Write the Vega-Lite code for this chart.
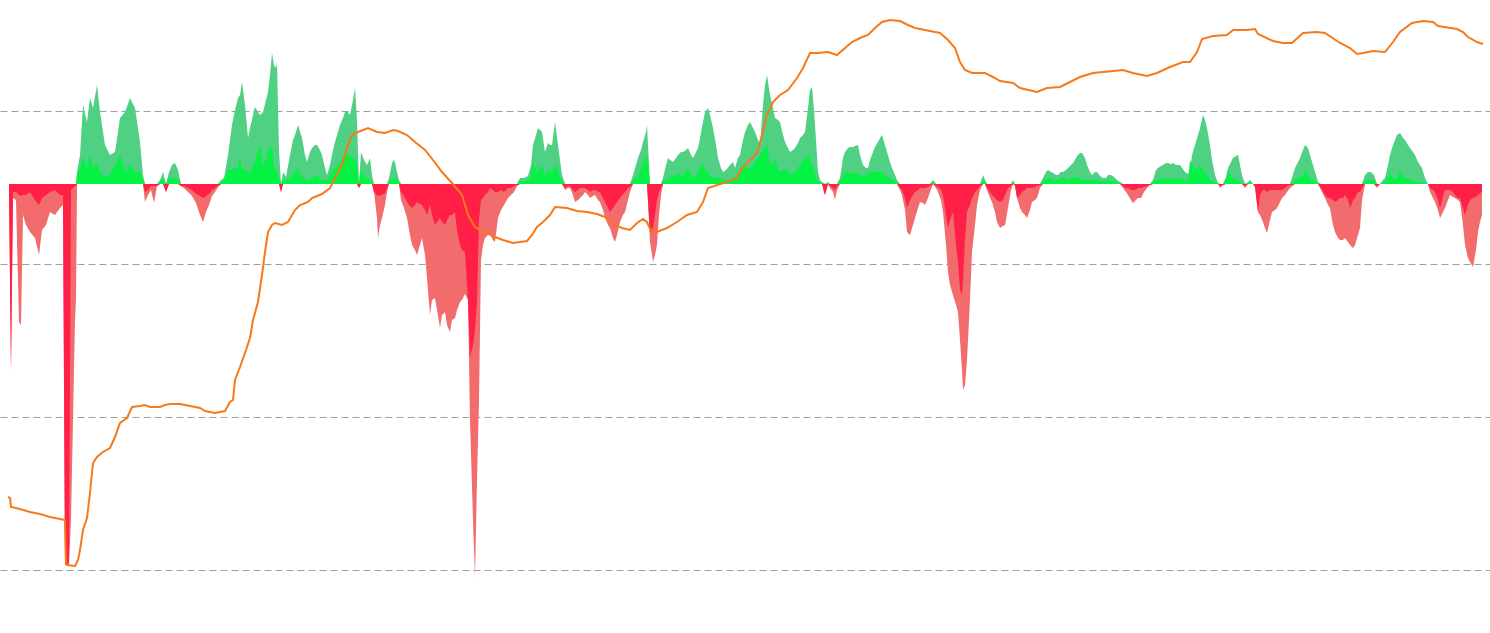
{
"$schema":"https://vega.github.io/schema/vega-lite/v6.json",
"width":1490,"height":633,
"autosize":{"type":"fit","contains":"padding"},
"padding":0,
"background":"white",
"config":{"view":{"stroke":null}},
"datasets":{
"flow":[
{"x":9,"g":0,"r":-11,"G":0,"R":-6},{"x":11,"g":0,"r":-186,"G":0,"R":-186},{"x":13,"g":0,"r":-14,"G":0,"R":-8},{"x":16,"g":0,"r":-16,"G":0,"R":-8},{"x":19,"g":0,"r":-138,"G":0,"R":-11},{"x":21,"g":0,"r":-141,"G":0,"R":-12},{"x":23,"g":0,"r":-31,"G":0,"R":-11},{"x":26,"g":0,"r":-41,"G":0,"R":-11},{"x":30,"g":0,"r":-48,"G":0,"R":-8},{"x":35,"g":0,"r":-54,"G":0,"R":-16},{"x":39,"g":0,"r":-71,"G":0,"R":-21},{"x":42,"g":0,"r":-46,"G":0,"R":-14},{"x":46,"g":0,"r":-41,"G":0,"R":-11},{"x":50,"g":0,"r":-28,"G":0,"R":-8},{"x":55,"g":0,"r":-31,"G":0,"R":-6},{"x":60,"g":0,"r":-24,"G":0,"R":-11},{"x":63,"g":0,"r":-21,"G":0,"R":-11},{"x":65,"g":0,"r":-381,"G":0,"R":-381},{"x":69,"g":0,"r":-381,"G":0,"R":-379},{"x":71,"g":0,"r":-336,"G":0,"R":-6},{"x":73,"g":0,"r":-236,"G":0,"R":-4},{"x":75,"g":0,"r":-136,"G":0,"R":-2},{"x":76,"g":0,"r":-116,"G":0,"R":-2},
{"x":77,"g":12,"r":0,"G":9,"R":0},{"x":80,"g":29,"r":0,"G":16,"R":0},{"x":83,"g":79,"r":0,"G":26,"R":0},{"x":87,"g":62,"r":0,"G":16,"R":0},{"x":90,"g":86,"r":0,"G":29,"R":0},{"x":93,"g":76,"r":0,"G":16,"R":0},{"x":97,"g":99,"r":0,"G":22,"R":0},{"x":100,"g":72,"r":0,"G":12,"R":0},{"x":105,"g":39,"r":0,"G":7,"R":0},{"x":110,"g":29,"r":0,"G":9,"R":0},{"x":115,"g":32,"r":0,"G":19,"R":0},{"x":120,"g":66,"r":0,"G":29,"R":0},{"x":125,"g":72,"r":0,"G":12,"R":0},{"x":130,"g":86,"r":0,"G":19,"R":0},{"x":135,"g":76,"r":0,"G":12,"R":0},{"x":140,"g":42,"r":0,"G":12,"R":0},{"x":143,"g":9,"r":0,"G":4,"R":0},
{"x":145,"g":0,"r":-18,"G":0,"R":-8},{"x":148,"g":0,"r":-11,"G":0,"R":-6},{"x":151,"g":0,"r":-6,"G":0,"R":-2},{"x":154,"g":0,"r":-19,"G":0,"R":-2},{"x":157,"g":0,"r":-2,"G":0,"R":-2},
{"x":160,"g":4,"r":0,"G":2,"R":0},{"x":163,"g":12,"r":0,"G":6,"R":0},{"x":166,"g":0,"r":-8,"G":0,"R":-8},{"x":169,"g":12,"r":0,"G":6,"R":0},{"x":172,"g":19,"r":0,"G":6,"R":0},{"x":175,"g":21,"r":0,"G":6,"R":0},{"x":178,"g":14,"r":0,"G":4,"R":0},
{"x":181,"g":0,"r":-2,"G":0,"R":-2},{"x":184,"g":0,"r":-4,"G":0,"R":-2},{"x":188,"g":0,"r":-8,"G":0,"R":-4},{"x":192,"g":0,"r":-12,"G":0,"R":-6},{"x":196,"g":0,"r":-19,"G":0,"R":-10},{"x":200,"g":0,"r":-31,"G":0,"R":-12},{"x":203,"g":0,"r":-38,"G":0,"R":-14},{"x":206,"g":0,"r":-28,"G":0,"R":-12},{"x":209,"g":0,"r":-21,"G":0,"R":-10},{"x":212,"g":0,"r":-12,"G":0,"R":-6},{"x":215,"g":0,"r":-8,"G":0,"R":-4},{"x":218,"g":0,"r":-3,"G":0,"R":-2},
{"x":221,"g":4,"r":0,"G":2,"R":0},{"x":224,"g":6,"r":0,"G":4,"R":0},{"x":228,"g":29,"r":0,"G":14,"R":0},{"x":232,"g":59,"r":0,"G":14,"R":0},{"x":235,"g":74,"r":0,"G":16,"R":0},{"x":238,"g":86,"r":0,"G":16,"R":0},{"x":240,"g":89,"r":0,"G":29,"R":0},{"x":242,"g":102,"r":0,"G":14,"R":0},{"x":245,"g":79,"r":0,"G":16,"R":0},{"x":248,"g":46,"r":0,"G":12,"R":0},{"x":250,"g":56,"r":0,"G":9,"R":0},{"x":253,"g":69,"r":0,"G":19,"R":0},{"x":255,"g":77,"r":0,"G":22,"R":0},{"x":258,"g":72,"r":0,"G":34,"R":0},{"x":260,"g":69,"r":0,"G":39,"R":0},{"x":263,"g":72,"r":0,"G":19,"R":0},{"x":266,"g":84,"r":0,"G":24,"R":0},{"x":268,"g":92,"r":0,"G":36,"R":0},{"x":270,"g":109,"r":0,"G":34,"R":0},{"x":272,"g":131,"r":0,"G":39,"R":0},{"x":274,"g":119,"r":0,"G":16,"R":0},{"x":276,"g":116,"r":0,"G":14,"R":0},{"x":277,"g":122,"r":0,"G":12,"R":0},{"x":279,"g":34,"r":0,"G":6,"R":0},{"x":281,"g":0,"r":-8,"G":0,"R":-8},{"x":283,"g":12,"r":0,"G":4,"R":0},{"x":286,"g":7,"r":0,"G":4,"R":0},{"x":290,"g":29,"r":0,"G":6,"R":0},{"x":293,"g":44,"r":0,"G":9,"R":0},{"x":295,"g":49,"r":0,"G":12,"R":0},{"x":298,"g":59,"r":0,"G":16,"R":0},{"x":302,"g":46,"r":0,"G":7,"R":0},{"x":305,"g":29,"r":0,"G":6,"R":0},{"x":307,"g":22,"r":0,"G":4,"R":0},{"x":310,"g":32,"r":0,"G":4,"R":0},{"x":312,"g":36,"r":0,"G":6,"R":0},{"x":315,"g":39,"r":0,"G":8,"R":0},{"x":317,"g":39,"r":0,"G":9,"R":0},{"x":320,"g":34,"r":0,"G":6,"R":0},{"x":322,"g":29,"r":0,"G":4,"R":0},{"x":325,"g":16,"r":0,"G":4,"R":0},{"x":327,"g":9,"r":0,"G":3,"R":0},{"x":330,"g":19,"r":0,"G":9,"R":0},{"x":333,"g":34,"r":0,"G":14,"R":0},{"x":335,"g":42,"r":0,"G":16,"R":0},{"x":338,"g":52,"r":0,"G":19,"R":0},{"x":340,"g":59,"r":0,"G":22,"R":0},{"x":343,"g":66,"r":0,"G":26,"R":0},{"x":345,"g":72,"r":0,"G":32,"R":0},{"x":348,"g":72,"r":0,"G":29,"R":0},{"x":350,"g":69,"r":0,"G":29,"R":0},{"x":353,"g":84,"r":0,"G":26,"R":0},{"x":355,"g":96,"r":0,"G":26,"R":0},{"x":357,"g":64,"r":0,"G":19,"R":0},{"x":359,"g":0,"r":-4,"G":0,"R":-4},{"x":361,"g":32,"r":0,"G":14,"R":0},{"x":364,"g":24,"r":0,"G":9,"R":0},{"x":367,"g":19,"r":0,"G":6,"R":0},{"x":370,"g":26,"r":0,"G":4,"R":0},{"x":372,"g":9,"r":0,"G":2,"R":0},
{"x":374,"g":0,"r":-8,"G":0,"R":-8},{"x":377,"g":0,"r":-34,"G":0,"R":-11},{"x":378,"g":0,"r":-54,"G":0,"R":-12},{"x":380,"g":0,"r":-41,"G":0,"R":-11},{"x":382,"g":0,"r":-34,"G":0,"R":-11},{"x":385,"g":0,"r":-21,"G":0,"R":-9},{"x":387,"g":0,"r":-8,"G":0,"R":-4},
{"x":389,"g":6,"r":0,"G":2,"R":0},{"x":391,"g":16,"r":0,"G":4,"R":0},{"x":393,"g":24,"r":0,"G":6,"R":0},{"x":395,"g":22,"r":0,"G":6,"R":0},{"x":397,"g":12,"r":0,"G":4,"R":0},{"x":399,"g":4,"r":0,"G":2,"R":0},
{"x":401,"g":0,"r":-16,"G":0,"R":-8},{"x":404,"g":0,"r":-24,"G":0,"R":-12},{"x":407,"g":0,"r":-34,"G":0,"R":-18},{"x":410,"g":0,"r":-51,"G":0,"R":-22},{"x":412,"g":0,"r":-61,"G":0,"R":-24},{"x":415,"g":0,"r":-66,"G":0,"R":-21},{"x":417,"g":0,"r":-71,"G":0,"R":-18},{"x":420,"g":0,"r":-61,"G":0,"R":-20},{"x":422,"g":0,"r":-54,"G":0,"R":-21},{"x":425,"g":0,"r":-71,"G":0,"R":-26},{"x":427,"g":0,"r":-94,"G":0,"R":-31},{"x":430,"g":0,"r":-131,"G":0,"R":-21},{"x":432,"g":0,"r":-116,"G":0,"R":-31},{"x":435,"g":0,"r":-114,"G":0,"R":-41},{"x":437,"g":0,"r":-126,"G":0,"R":-38},{"x":440,"g":0,"r":-144,"G":0,"R":-34},{"x":442,"g":0,"r":-131,"G":0,"R":-38},{"x":445,"g":0,"r":-128,"G":0,"R":-41},{"x":447,"g":0,"r":-141,"G":0,"R":-36},{"x":450,"g":0,"r":-148,"G":0,"R":-31},{"x":452,"g":0,"r":-136,"G":0,"R":-31},{"x":455,"g":0,"r":-134,"G":0,"R":-28},{"x":457,"g":0,"r":-126,"G":0,"R":-46},{"x":460,"g":0,"r":-118,"G":0,"R":-61},{"x":462,"g":0,"r":-116,"G":0,"R":-66},{"x":465,"g":0,"r":-110,"G":0,"R":-68},{"x":468,"g":0,"r":-116,"G":0,"R":-116},{"x":470,"g":0,"r":-236,"G":0,"R":-173},{"x":473,"g":0,"r":-336,"G":0,"R":-161},{"x":475,"g":0,"r":-394,"G":0,"R":-146},{"x":477,"g":0,"r":-296,"G":0,"R":-116},{"x":479,"g":0,"r":-216,"G":0,"R":-36},{"x":481,"g":0,"r":-76,"G":0,"R":-16},{"x":483,"g":0,"r":-61,"G":0,"R":-14},{"x":485,"g":0,"r":-54,"G":0,"R":-11},{"x":488,"g":0,"r":-51,"G":0,"R":-8},{"x":490,"g":0,"r":-51,"G":0,"R":-4},{"x":493,"g":0,"r":-56,"G":0,"R":-6},{"x":495,"g":0,"r":-58,"G":0,"R":-8},{"x":498,"g":0,"r":-34,"G":0,"R":-8},{"x":501,"g":0,"r":-26,"G":0,"R":-6},{"x":504,"g":0,"r":-21,"G":0,"R":-8},{"x":508,"g":0,"r":-14,"G":0,"R":-4},{"x":511,"g":0,"r":-11,"G":0,"R":-4},{"x":514,"g":0,"r":-8,"G":0,"R":-2},{"x":517,"g":0,"r":-2,"G":0,"R":-1},
{"x":520,"g":6,"r":0,"G":3,"R":0},{"x":524,"g":6,"r":0,"G":3,"R":0},{"x":528,"g":8,"r":0,"G":4,"R":0},{"x":531,"g":19,"r":0,"G":8,"R":0},{"x":533,"g":39,"r":0,"G":22,"R":0},{"x":536,"g":49,"r":0,"G":14,"R":0},{"x":538,"g":56,"r":0,"G":12,"R":0},{"x":540,"g":54,"r":0,"G":16,"R":0},{"x":542,"g":52,"r":0,"G":19,"R":0},{"x":545,"g":32,"r":0,"G":8,"R":0},{"x":548,"g":41,"r":0,"G":14,"R":0},{"x":550,"g":39,"r":0,"G":12,"R":0},{"x":552,"g":39,"r":0,"G":12,"R":0},{"x":555,"g":62,"r":0,"G":19,"R":0},{"x":558,"g":39,"r":0,"G":14,"R":0},{"x":560,"g":24,"r":0,"G":6,"R":0},{"x":562,"g":9,"r":0,"G":4,"R":0},
{"x":565,"g":0,"r":-6,"G":0,"R":-4},{"x":568,"g":0,"r":-4,"G":0,"R":-2},{"x":570,"g":0,"r":-4,"G":0,"R":-2},{"x":573,"g":0,"r":-11,"G":0,"R":-6},{"x":575,"g":0,"r":-18,"G":0,"R":-8},{"x":578,"g":0,"r":-16,"G":0,"R":-6},{"x":580,"g":0,"r":-14,"G":0,"R":-4},{"x":583,"g":0,"r":-11,"G":0,"R":-4},{"x":585,"g":0,"r":-8,"G":0,"R":-4},{"x":588,"g":0,"r":-11,"G":0,"R":-6},{"x":590,"g":0,"r":-14,"G":0,"R":-8},{"x":593,"g":0,"r":-12,"G":0,"R":-6},{"x":595,"g":0,"r":-11,"G":0,"R":-6},{"x":598,"g":0,"r":-16,"G":0,"R":-8},{"x":600,"g":0,"r":-18,"G":0,"R":-8},{"x":603,"g":0,"r":-26,"G":0,"R":-14},{"x":605,"g":0,"r":-34,"G":0,"R":-18},{"x":608,"g":0,"r":-41,"G":0,"R":-24},{"x":610,"g":0,"r":-44,"G":0,"R":-28},{"x":613,"g":0,"r":-54,"G":0,"R":-24},{"x":615,"g":0,"r":-58,"G":0,"R":-21},{"x":617,"g":0,"r":-51,"G":0,"R":-18},{"x":620,"g":0,"r":-38,"G":0,"R":-14},{"x":623,"g":0,"r":-31,"G":0,"R":-10},{"x":625,"g":0,"r":-28,"G":0,"R":-8},{"x":628,"g":0,"r":-16,"G":0,"R":-4},{"x":630,"g":0,"r":-8,"G":0,"R":-3},
{"x":633,"g":9,"r":0,"G":4,"R":0},{"x":636,"g":19,"r":0,"G":6,"R":0},{"x":638,"g":26,"r":0,"G":8,"R":0},{"x":641,"g":34,"r":0,"G":14,"R":0},{"x":643,"g":42,"r":0,"G":22,"R":0},{"x":646,"g":52,"r":0,"G":26,"R":0},{"x":647,"g":59,"r":0,"G":29,"R":0},
{"x":650,"g":0,"r":-58,"G":0,"R":-48},{"x":652,"g":0,"r":-71,"G":0,"R":-46},{"x":653,"g":0,"r":-78,"G":0,"R":-44},{"x":655,"g":0,"r":-71,"G":0,"R":-31},{"x":657,"g":0,"r":-61,"G":0,"R":-16},{"x":659,"g":0,"r":-31,"G":0,"R":-8},{"x":661,"g":0,"r":-11,"G":0,"R":-4},
{"x":663,"g":6,"r":0,"G":3,"R":0},{"x":666,"g":19,"r":0,"G":4,"R":0},{"x":668,"g":26,"r":0,"G":4,"R":0},{"x":670,"g":24,"r":0,"G":6,"R":0},{"x":673,"g":22,"r":0,"G":9,"R":0},{"x":676,"g":26,"r":0,"G":9,"R":0},{"x":678,"g":29,"r":0,"G":12,"R":0},{"x":681,"g":32,"r":0,"G":6,"R":0},{"x":683,"g":32,"r":0,"G":9,"R":0},{"x":686,"g":34,"r":0,"G":12,"R":0},{"x":688,"g":36,"r":0,"G":16,"R":0},{"x":691,"g":29,"r":0,"G":9,"R":0},{"x":693,"g":26,"r":0,"G":6,"R":0},{"x":696,"g":32,"r":0,"G":8,"R":0},{"x":698,"g":36,"r":0,"G":12,"R":0},{"x":700,"g":46,"r":0,"G":16,"R":0},{"x":703,"g":62,"r":0,"G":21,"R":0},{"x":705,"g":72,"r":0,"G":14,"R":0},{"x":708,"g":76,"r":0,"G":12,"R":0},{"x":710,"g":69,"r":0,"G":8,"R":0},{"x":713,"g":56,"r":0,"G":6,"R":0},{"x":716,"g":39,"r":0,"G":6,"R":0},{"x":718,"g":26,"r":0,"G":7,"R":0},{"x":721,"g":16,"r":0,"G":6,"R":0},{"x":723,"g":12,"r":0,"G":4,"R":0},{"x":726,"g":14,"r":0,"G":4,"R":0},{"x":730,"g":19,"r":0,"G":4,"R":0},{"x":733,"g":22,"r":0,"G":6,"R":0},{"x":735,"g":16,"r":0,"G":7,"R":0},{"x":738,"g":26,"r":0,"G":9,"R":0},{"x":740,"g":29,"r":0,"G":12,"R":0},{"x":743,"g":44,"r":0,"G":16,"R":0},{"x":745,"g":52,"r":0,"G":19,"R":0},{"x":748,"g":59,"r":0,"G":16,"R":0},{"x":750,"g":62,"r":0,"G":16,"R":0},{"x":753,"g":56,"r":0,"G":19,"R":0},{"x":755,"g":52,"r":0,"G":22,"R":0},{"x":758,"g":44,"r":0,"G":26,"R":0},{"x":760,"g":39,"r":0,"G":29,"R":0},{"x":763,"g":79,"r":0,"G":34,"R":0},{"x":765,"g":99,"r":0,"G":36,"R":0},{"x":767,"g":109,"r":0,"G":39,"R":0},{"x":770,"g":89,"r":0,"G":19,"R":0},{"x":773,"g":76,"r":0,"G":21,"R":0},{"x":775,"g":66,"r":0,"G":26,"R":0},{"x":778,"g":64,"r":0,"G":14,"R":0},{"x":780,"g":62,"r":0,"G":12,"R":0},{"x":783,"g":49,"r":0,"G":14,"R":0},{"x":785,"g":42,"r":0,"G":16,"R":0},{"x":788,"g":36,"r":0,"G":12,"R":0},{"x":790,"g":32,"r":0,"G":9,"R":0},{"x":793,"g":34,"r":0,"G":11,"R":0},{"x":795,"g":36,"r":0,"G":12,"R":0},{"x":798,"g":41,"r":0,"G":16,"R":0},{"x":800,"g":46,"r":0,"G":19,"R":0},{"x":803,"g":49,"r":0,"G":24,"R":0},{"x":805,"g":52,"r":0,"G":26,"R":0},{"x":808,"g":76,"r":0,"G":29,"R":0},{"x":810,"g":94,"r":0,"G":24,"R":0},{"x":812,"g":97,"r":0,"G":19,"R":0},{"x":814,"g":74,"r":0,"G":14,"R":0},{"x":816,"g":44,"r":0,"G":6,"R":0},{"x":818,"g":12,"r":0,"G":2,"R":0},{"x":820,"g":4,"r":0,"G":1,"R":0},{"x":822,"g":2,"r":0,"G":1,"R":0},{"x":825,"g":0,"r":-11,"G":0,"R":-11},{"x":828,"g":2,"r":0,"G":1,"R":0},{"x":830,"g":0,"r":-4,"G":0,"R":-2},{"x":833,"g":0,"r":-8,"G":0,"R":-4},{"x":835,"g":0,"r":-16,"G":0,"R":-6},{"x":837,"g":0,"r":-6,"G":0,"R":-2},
{"x":840,"g":6,"r":0,"G":3,"R":0},{"x":843,"g":26,"r":0,"G":8,"R":0},{"x":845,"g":32,"r":0,"G":11,"R":0},{"x":848,"g":36,"r":0,"G":12,"R":0},{"x":850,"g":37,"r":0,"G":11,"R":0},{"x":853,"g":37,"r":0,"G":11,"R":0},{"x":855,"g":38,"r":0,"G":11,"R":0},{"x":858,"g":39,"r":0,"G":11,"R":0},{"x":860,"g":29,"r":0,"G":9,"R":0},{"x":863,"g":19,"r":0,"G":7,"R":0},{"x":866,"g":16,"r":0,"G":9,"R":0},{"x":868,"g":16,"r":0,"G":11,"R":0},{"x":870,"g":24,"r":0,"G":12,"R":0},{"x":873,"g":32,"r":0,"G":12,"R":0},{"x":875,"g":37,"r":0,"G":12,"R":0},{"x":878,"g":42,"r":0,"G":12,"R":0},{"x":880,"g":46,"r":0,"G":12,"R":0},{"x":882,"g":49,"r":0,"G":12,"R":0},{"x":885,"g":39,"r":0,"G":9,"R":0},{"x":887,"g":32,"r":0,"G":7,"R":0},{"x":890,"g":22,"r":0,"G":6,"R":0},{"x":892,"g":16,"r":0,"G":4,"R":0},{"x":895,"g":9,"r":0,"G":3,"R":0},{"x":897,"g":4,"r":0,"G":1,"R":0},
{"x":900,"g":0,"r":-6,"G":0,"R":-4},{"x":902,"g":0,"r":-11,"G":0,"R":-6},{"x":905,"g":0,"r":-26,"G":0,"R":-14},{"x":907,"g":0,"r":-48,"G":0,"R":-24},{"x":910,"g":0,"r":-51,"G":0,"R":-16},{"x":913,"g":0,"r":-41,"G":0,"R":-11},{"x":915,"g":0,"r":-34,"G":0,"R":-8},{"x":918,"g":0,"r":-24,"G":0,"R":-6},{"x":920,"g":0,"r":-18,"G":0,"R":-4},{"x":923,"g":0,"r":-19,"G":0,"R":-4},{"x":925,"g":0,"r":-21,"G":0,"R":-4},{"x":928,"g":0,"r":-14,"G":0,"R":-3},{"x":930,"g":0,"r":-8,"G":0,"R":-2},{"x":933,"g":4,"r":0,"G":2,"R":0},{"x":936,"g":0,"r":-4,"G":0,"R":-2},{"x":938,"g":0,"r":-8,"G":0,"R":-3},{"x":941,"g":0,"r":-16,"G":0,"R":-6},{"x":943,"g":0,"r":-28,"G":0,"R":-11},{"x":946,"g":0,"r":-61,"G":0,"R":-31},{"x":948,"g":0,"r":-88,"G":0,"R":-44},{"x":950,"g":0,"r":-101,"G":0,"R":-36},{"x":953,"g":0,"r":-111,"G":0,"R":-28},{"x":956,"g":0,"r":-121,"G":0,"R":-61},{"x":958,"g":0,"r":-128,"G":0,"R":-78},{"x":960,"g":0,"r":-156,"G":0,"R":-106},{"x":962,"g":0,"r":-186,"G":0,"R":-111},{"x":963,"g":0,"r":-206,"G":0,"R":-96},{"x":965,"g":0,"r":-201,"G":0,"R":-56},{"x":967,"g":0,"r":-176,"G":0,"R":-28},{"x":970,"g":0,"r":-116,"G":0,"R":-21},{"x":972,"g":0,"r":-68,"G":0,"R":-14},{"x":975,"g":0,"r":-41,"G":0,"R":-8},{"x":977,"g":0,"r":-21,"G":0,"R":-6},{"x":980,"g":0,"r":-6,"G":0,"R":-2},
{"x":983,"g":9,"r":0,"G":4,"R":0},{"x":985,"g":4,"r":0,"G":2,"R":0},
{"x":987,"g":0,"r":-6,"G":0,"R":-4},{"x":990,"g":0,"r":-14,"G":0,"R":-8},{"x":992,"g":0,"r":-18,"G":0,"R":-11},{"x":995,"g":0,"r":-28,"G":0,"R":-14},{"x":997,"g":0,"r":-38,"G":0,"R":-16},{"x":1000,"g":0,"r":-44,"G":0,"R":-18},{"x":1003,"g":0,"r":-42,"G":0,"R":-16},{"x":1005,"g":0,"r":-41,"G":0,"R":-11},{"x":1008,"g":0,"r":-24,"G":0,"R":-4},{"x":1011,"g":0,"r":-6,"G":0,"R":-2},{"x":1013,"g":4,"r":0,"G":2,"R":0},{"x":1015,"g":0,"r":-2,"G":0,"R":-1},{"x":1017,"g":0,"r":-14,"G":0,"R":-14},{"x":1020,"g":0,"r":-24,"G":0,"R":-11},{"x":1022,"g":0,"r":-28,"G":0,"R":-8},{"x":1025,"g":0,"r":-31,"G":0,"R":-6},{"x":1027,"g":0,"r":-34,"G":0,"R":-4},{"x":1030,"g":0,"r":-26,"G":0,"R":-4},{"x":1032,"g":0,"r":-18,"G":0,"R":-4},{"x":1035,"g":0,"r":-16,"G":0,"R":-3},{"x":1037,"g":0,"r":-14,"G":0,"R":-2},{"x":1040,"g":0,"r":-4,"G":0,"R":-1},
{"x":1043,"g":6,"r":0,"G":3,"R":0},{"x":1046,"g":12,"r":0,"G":4,"R":0},{"x":1048,"g":14,"r":0,"G":6,"R":0},{"x":1051,"g":12,"r":0,"G":6,"R":0},{"x":1053,"g":11,"r":0,"G":4,"R":0},{"x":1056,"g":9,"r":0,"G":4,"R":0},{"x":1058,"g":9,"r":0,"G":4,"R":0},{"x":1061,"g":12,"r":0,"G":6,"R":0},{"x":1063,"g":12,"r":0,"G":7,"R":0},{"x":1066,"g":14,"r":0,"G":4,"R":0},{"x":1068,"g":16,"r":0,"G":4,"R":0},{"x":1071,"g":19,"r":0,"G":6,"R":0},{"x":1073,"g":21,"r":0,"G":7,"R":0},{"x":1076,"g":26,"r":0,"G":6,"R":0},{"x":1078,"g":29,"r":0,"G":6,"R":0},{"x":1080,"g":31,"r":0,"G":6,"R":0},{"x":1082,"g":31,"r":0,"G":4,"R":0},{"x":1085,"g":26,"r":0,"G":4,"R":0},{"x":1087,"g":19,"r":0,"G":4,"R":0},{"x":1090,"g":12,"r":0,"G":4,"R":0},{"x":1092,"g":9,"r":0,"G":4,"R":0},{"x":1095,"g":12,"r":0,"G":5,"R":0},{"x":1097,"g":12,"r":0,"G":4,"R":0},{"x":1100,"g":8,"r":0,"G":3,"R":0},{"x":1103,"g":6,"r":0,"G":3,"R":0},{"x":1106,"g":6,"r":0,"G":3,"R":0},{"x":1108,"g":9,"r":0,"G":4,"R":0},{"x":1111,"g":9,"r":0,"G":3,"R":0},{"x":1114,"g":7,"r":0,"G":3,"R":0},{"x":1117,"g":4,"r":0,"G":2,"R":0},{"x":1120,"g":2,"r":0,"G":1,"R":0},
{"x":1123,"g":0,"r":-4,"G":0,"R":-2},{"x":1126,"g":0,"r":-8,"G":0,"R":-4},{"x":1128,"g":0,"r":-11,"G":0,"R":-4},{"x":1131,"g":0,"r":-16,"G":0,"R":-6},{"x":1133,"g":0,"r":-19,"G":0,"R":-6},{"x":1136,"g":0,"r":-16,"G":0,"R":-6},{"x":1138,"g":0,"r":-14,"G":0,"R":-4},{"x":1141,"g":0,"r":-14,"G":0,"R":-4},{"x":1144,"g":0,"r":-8,"G":0,"R":-3},{"x":1147,"g":0,"r":-4,"G":0,"R":-2},{"x":1150,"g":0,"r":-1,"G":0,"R":-1},
{"x":1153,"g":4,"r":0,"G":2,"R":0},{"x":1156,"g":14,"r":0,"G":4,"R":0},{"x":1158,"g":16,"r":0,"G":4,"R":0},{"x":1161,"g":18,"r":0,"G":5,"R":0},{"x":1163,"g":19,"r":0,"G":5,"R":0},{"x":1166,"g":21,"r":0,"G":6,"R":0},{"x":1168,"g":21,"r":0,"G":5,"R":0},{"x":1171,"g":20,"r":0,"G":6,"R":0},{"x":1173,"g":21,"r":0,"G":4,"R":0},{"x":1176,"g":19,"r":0,"G":6,"R":0},{"x":1178,"g":19,"r":0,"G":4,"R":0},{"x":1180,"g":19,"r":0,"G":6,"R":0},{"x":1182,"g":16,"r":0,"G":6,"R":0},{"x":1185,"g":12,"r":0,"G":3,"R":0},{"x":1188,"g":10,"r":0,"G":3,"R":0},{"x":1190,"g":12,"r":0,"G":24,"R":0},{"x":1192,"g":29,"r":0,"G":19,"R":0},{"x":1195,"g":39,"r":0,"G":14,"R":0},{"x":1198,"g":49,"r":0,"G":16,"R":0},{"x":1200,"g":56,"r":0,"G":19,"R":0},{"x":1203,"g":69,"r":0,"G":14,"R":0},{"x":1205,"g":64,"r":0,"G":12,"R":0},{"x":1207,"g":56,"r":0,"G":9,"R":0},{"x":1210,"g":39,"r":0,"G":4,"R":0},{"x":1212,"g":24,"r":0,"G":3,"R":0},{"x":1215,"g":9,"r":0,"G":2,"R":0},{"x":1218,"g":1,"r":0,"G":1,"R":0},{"x":1220,"g":0,"r":-4,"G":0,"R":-2},{"x":1223,"g":0,"r":-1,"G":0,"R":-1},
{"x":1226,"g":6,"r":0,"G":6,"R":0},{"x":1228,"g":16,"r":0,"G":14,"R":0},{"x":1231,"g":22,"r":0,"G":8,"R":0},{"x":1233,"g":26,"r":0,"G":6,"R":0},{"x":1236,"g":28,"r":0,"G":4,"R":0},{"x":1238,"g":29,"r":0,"G":3,"R":0},{"x":1240,"g":19,"r":0,"G":2,"R":0},{"x":1242,"g":9,"r":0,"G":1,"R":0},{"x":1245,"g":0,"r":-4,"G":0,"R":-2},{"x":1248,"g":2,"r":0,"G":1,"R":0},{"x":1250,"g":4,"r":0,"G":2,"R":0},{"x":1253,"g":0,"r":0,"G":0,"R":0},
{"x":1255,"g":0,"r":-4,"G":0,"R":-2},{"x":1258,"g":0,"r":-28,"G":0,"R":-28},{"x":1260,"g":0,"r":-31,"G":0,"R":-11},{"x":1263,"g":0,"r":-38,"G":0,"R":-6},{"x":1265,"g":0,"r":-44,"G":0,"R":-6},{"x":1267,"g":0,"r":-49,"G":0,"R":-8},{"x":1270,"g":0,"r":-36,"G":0,"R":-6},{"x":1272,"g":0,"r":-28,"G":0,"R":-6},{"x":1275,"g":0,"r":-26,"G":0,"R":-6},{"x":1277,"g":0,"r":-24,"G":0,"R":-6},{"x":1280,"g":0,"r":-18,"G":0,"R":-6},{"x":1282,"g":0,"r":-14,"G":0,"R":-6},{"x":1285,"g":0,"r":-11,"G":0,"R":-4},{"x":1287,"g":0,"r":-8,"G":0,"R":-2},{"x":1290,"g":0,"r":-4,"G":0,"R":-1},
{"x":1295,"g":16,"r":0,"G":4,"R":0},{"x":1298,"g":22,"r":0,"G":6,"R":0},{"x":1300,"g":26,"r":0,"G":6,"R":0},{"x":1303,"g":34,"r":0,"G":9,"R":0},{"x":1305,"g":39,"r":0,"G":14,"R":0},{"x":1308,"g":36,"r":0,"G":9,"R":0},{"x":1310,"g":29,"r":0,"G":6,"R":0},{"x":1313,"g":19,"r":0,"G":4,"R":0},{"x":1315,"g":12,"r":0,"G":2,"R":0},{"x":1318,"g":2,"r":0,"G":1,"R":0},
{"x":1321,"g":0,"r":-6,"G":0,"R":-4},{"x":1325,"g":0,"r":-14,"G":0,"R":-11},{"x":1328,"g":0,"r":-21,"G":0,"R":-14},{"x":1330,"g":0,"r":-24,"G":0,"R":-14},{"x":1333,"g":0,"r":-41,"G":0,"R":-16},{"x":1335,"g":0,"r":-48,"G":0,"R":-18},{"x":1338,"g":0,"r":-54,"G":0,"R":-16},{"x":1340,"g":0,"r":-56,"G":0,"R":-14},{"x":1343,"g":0,"r":-56,"G":0,"R":-14},{"x":1345,"g":0,"r":-54,"G":0,"R":-11},{"x":1348,"g":0,"r":-58,"G":0,"R":-16},{"x":1350,"g":0,"r":-61,"G":0,"R":-24},{"x":1353,"g":0,"r":-64,"G":0,"R":-16},{"x":1355,"g":0,"r":-61,"G":0,"R":-14},{"x":1358,"g":0,"r":-51,"G":0,"R":-8},{"x":1360,"g":0,"r":-44,"G":0,"R":-8},{"x":1362,"g":0,"r":-16,"G":0,"R":-4},
{"x":1365,"g":9,"r":0,"G":3,"R":0},{"x":1368,"g":12,"r":0,"G":4,"R":0},{"x":1371,"g":12,"r":0,"G":4,"R":0},{"x":1374,"g":9,"r":0,"G":4,"R":0},{"x":1377,"g":0,"r":-4,"G":0,"R":-2},{"x":1380,"g":0,"r":0,"G":0,"R":0},{"x":1383,"g":4,"r":0,"G":1,"R":0},{"x":1385,"g":6,"r":0,"G":2,"R":0},{"x":1388,"g":19,"r":0,"G":6,"R":0},{"x":1390,"g":29,"r":0,"G":11,"R":0},{"x":1393,"g":39,"r":0,"G":6,"R":0},{"x":1395,"g":44,"r":0,"G":4,"R":0},{"x":1397,"g":49,"r":0,"G":6,"R":0},{"x":1400,"g":51,"r":0,"G":12,"R":0},{"x":1403,"g":46,"r":0,"G":8,"R":0},{"x":1405,"g":44,"r":0,"G":6,"R":0},{"x":1408,"g":39,"r":0,"G":6,"R":0},{"x":1410,"g":36,"r":0,"G":4,"R":0},{"x":1413,"g":32,"r":0,"G":3,"R":0},{"x":1415,"g":29,"r":0,"G":3,"R":0},{"x":1418,"g":22,"r":0,"G":2,"R":0},{"x":1422,"g":16,"r":0,"G":1,"R":0},{"x":1425,"g":6,"r":0,"G":1,"R":0},{"x":1428,"g":0,"r":0,"G":0,"R":0},
{"x":1430,"g":0,"r":-8,"G":0,"R":-4},{"x":1433,"g":0,"r":-14,"G":0,"R":-6},{"x":1435,"g":0,"r":-18,"G":0,"R":-8},{"x":1438,"g":0,"r":-26,"G":0,"R":-16},{"x":1440,"g":0,"r":-34,"G":0,"R":-24},{"x":1443,"g":0,"r":-28,"G":0,"R":-12},{"x":1445,"g":0,"r":-24,"G":0,"R":-6},{"x":1448,"g":0,"r":-16,"G":0,"R":-6},{"x":1450,"g":0,"r":-11,"G":0,"R":-6},{"x":1453,"g":0,"r":-13,"G":0,"R":-8},{"x":1455,"g":0,"r":-14,"G":0,"R":-11},{"x":1458,"g":0,"r":-16,"G":0,"R":-14},{"x":1460,"g":0,"r":-18,"G":0,"R":-14},{"x":1463,"g":0,"r":-41,"G":0,"R":-24},{"x":1465,"g":0,"r":-61,"G":0,"R":-31},{"x":1468,"g":0,"r":-74,"G":0,"R":-21},{"x":1470,"g":0,"r":-78,"G":0,"R":-16},{"x":1473,"g":0,"r":-83,"G":0,"R":-14},{"x":1476,"g":0,"r":-66,"G":0,"R":-13},{"x":1478,"g":0,"r":-48,"G":0,"R":-11},{"x":1480,"g":0,"r":-38,"G":0,"R":-9},{"x":1482,"g":0,"r":-31,"G":0,"R":-8}
],
"price":[
{"x":8,"p":136},{"x":10,"p":135},{"x":11,"p":126},{"x":20,"p":124},{"x":30,"p":121},{"x":40,"p":119},{"x":50,"p":116},{"x":60,"p":114},{"x":65,"p":113},{"x":66,"p":71},{"x":67,"p":68},{"x":75,"p":67},{"x":78,"p":73},{"x":80,"p":83},{"x":83,"p":103},{"x":87,"p":115},{"x":90,"p":140},{"x":93,"p":170},{"x":97,"p":176},{"x":103,"p":181},{"x":110,"p":185},{"x":115,"p":196},{"x":120,"p":210},{"x":127,"p":215},{"x":132,"p":226},{"x":140,"p":227},{"x":145,"p":228},{"x":150,"p":226},{"x":160,"p":226},{"x":165,"p":228},{"x":170,"p":229},{"x":180,"p":229},{"x":190,"p":227},{"x":200,"p":225},{"x":205,"p":222},{"x":215,"p":220},{"x":225,"p":222},{"x":230,"p":231},{"x":233,"p":233},{"x":235,"p":253},{"x":240,"p":266},{"x":245,"p":280},{"x":250,"p":295},{"x":253,"p":313},{"x":258,"p":331},{"x":262,"p":358},{"x":265,"p":381},{"x":268,"p":401},{"x":272,"p":408},{"x":275,"p":410},{"x":282,"p":408},{"x":288,"p":411},{"x":295,"p":423},{"x":300,"p":428},{"x":308,"p":431},{"x":312,"p":435},{"x":322,"p":439},{"x":330,"p":445},{"x":335,"p":455},{"x":342,"p":468},{"x":347,"p":485},{"x":352,"p":498},{"x":358,"p":501},{"x":368,"p":505},{"x":377,"p":501},{"x":385,"p":500},{"x":393,"p":503},{"x":398,"p":502},{"x":407,"p":498},{"x":415,"p":491},{"x":425,"p":483},{"x":433,"p":473},{"x":442,"p":461},{"x":452,"p":450},{"x":462,"p":438},{"x":468,"p":418},{"x":475,"p":406},{"x":485,"p":401},{"x":495,"p":396},{"x":503,"p":393},{"x":513,"p":390},{"x":527,"p":392},{"x":532,"p":398},{"x":537,"p":406},{"x":543,"p":411},{"x":550,"p":418},{"x":555,"p":426},{"x":567,"p":425},{"x":577,"p":422},{"x":587,"p":421},{"x":597,"p":419},{"x":605,"p":416},{"x":613,"p":410},{"x":622,"p":405},{"x":630,"p":403},{"x":637,"p":410},{"x":643,"p":414},{"x":647,"p":411},{"x":650,"p":404},{"x":657,"p":401},{"x":667,"p":405},{"x":677,"p":411},{"x":687,"p":418},{"x":697,"p":421},{"x":703,"p":431},{"x":708,"p":445},{"x":717,"p":448},{"x":727,"p":451},{"x":737,"p":455},{"x":742,"p":465},{"x":748,"p":471},{"x":757,"p":480},{"x":762,"p":498},{"x":767,"p":518},{"x":773,"p":531},{"x":780,"p":538},{"x":788,"p":543},{"x":797,"p":555},{"x":803,"p":565},{"x":810,"p":580},{"x":818,"p":580},{"x":828,"p":581},{"x":837,"p":578},{"x":845,"p":585},{"x":852,"p":591},{"x":860,"p":595},{"x":868,"p":598},{"x":875,"p":605},{"x":882,"p":611},{"x":890,"p":613},{"x":900,"p":612},{"x":908,"p":608},{"x":915,"p":605},{"x":925,"p":603},{"x":935,"p":601},{"x":940,"p":600},{"x":948,"p":593},{"x":955,"p":585},{"x":960,"p":571},{"x":965,"p":563},{"x":972,"p":560},{"x":985,"p":560},{"x":993,"p":556},{"x":1000,"p":552},{"x":1013,"p":550},{"x":1020,"p":545},{"x":1037,"p":541},{"x":1047,"p":545},{"x":1060,"p":546},{"x":1070,"p":551},{"x":1080,"p":556},{"x":1093,"p":560},{"x":1113,"p":562},{"x":1123,"p":563},{"x":1133,"p":560},{"x":1147,"p":557},{"x":1157,"p":560},{"x":1170,"p":566},{"x":1183,"p":571},{"x":1190,"p":571},{"x":1197,"p":581},{"x":1202,"p":594},{"x":1213,"p":597},{"x":1227,"p":598},{"x":1233,"p":603},{"x":1247,"p":603},{"x":1255,"p":604},{"x":1258,"p":599},{"x":1273,"p":592},{"x":1283,"p":590},{"x":1292,"p":590},{"x":1303,"p":600},{"x":1317,"p":601},{"x":1325,"p":600},{"x":1340,"p":590},{"x":1350,"p":585},{"x":1357,"p":579},{"x":1363,"p":580},{"x":1373,"p":582},{"x":1385,"p":581},{"x":1393,"p":591},{"x":1400,"p":601},{"x":1412,"p":610},{"x":1423,"p":612},{"x":1433,"p":611},{"x":1438,"p":607},{"x":1457,"p":604},{"x":1463,"p":601},{"x":1468,"p":596},{"x":1477,"p":591},{"x":1483,"p":589}
]
},
"layer":[
{"data":{"name":"flow"},"mark":{"type":"area","color":"#4fd083"},
 "encoding":{"x":{"field":"x","type":"quantitative","scale":{"domain":[0,1490],"nice":false,"zero":false},"axis":null},
 "y":{"field":"g","type":"quantitative","scale":{"domain":[-449,184],"nice":false,"zero":false},"axis":null},"y2":{"datum":0}}},
{"data":{"name":"flow"},"mark":{"type":"area","color":"#f26b6d"},
 "encoding":{"x":{"field":"x","type":"quantitative","axis":null},
 "y":{"field":"r","type":"quantitative","scale":{"domain":[-449,184],"nice":false,"zero":false},"axis":null},"y2":{"datum":0}}},
{"data":{"name":"flow"},"mark":{"type":"area","color":"#05f244"},
 "encoding":{"x":{"field":"x","type":"quantitative","axis":null},
 "y":{"field":"G","type":"quantitative","scale":{"domain":[-449,184],"nice":false,"zero":false},"axis":null},"y2":{"datum":0}}},
{"data":{"name":"flow"},"mark":{"type":"area","color":"#ff1f47"},
 "encoding":{"x":{"field":"x","type":"quantitative","axis":null},
 "y":{"field":"R","type":"quantitative","scale":{"domain":[-449,184],"nice":false,"zero":false},"axis":null},"y2":{"datum":0}}},
{"data":{"name":"price"},"mark":{"type":"line","color":"#f57a1c","strokeWidth":2},
 "encoding":{"x":{"field":"x","type":"quantitative","axis":null},
 "y":{"field":"p","type":"quantitative","scale":{"domain":[0,633],"nice":false,"zero":false},
  "axis":{"grid":true,"gridDash":[7,4],"gridColor":"#9e9e9e","gridWidth":1,"labels":false,"ticks":false,"domain":false,"title":null,"values":[63,216,369,522],"minExtent":0,"maxExtent":0,"offset":0,"zindex":0}}}}
],
"resolve":{"scale":{"y":"independent"}}
}
